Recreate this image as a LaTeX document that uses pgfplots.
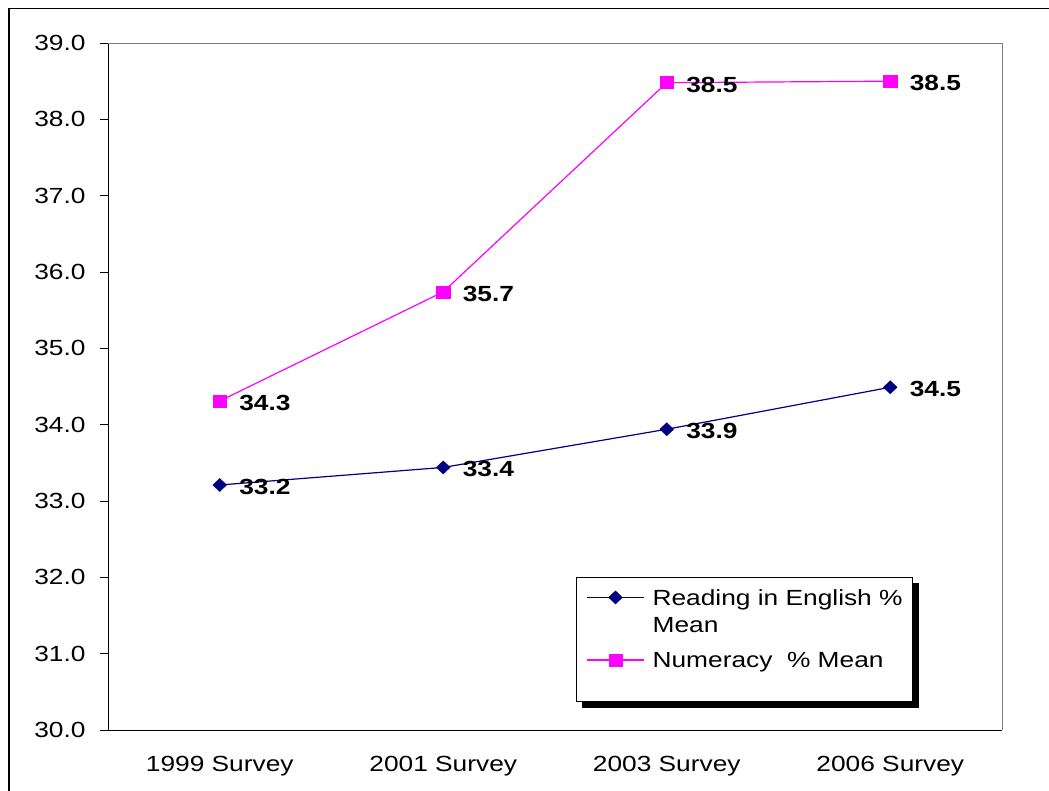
\documentclass[border=0pt]{standalone}
\usepackage{pgfplots}
\pgfplotsset{compat=1.18}
\usepackage{fontspec}
\setmainfont{Liberation Sans}[FakeStretch=1.2]
\usetikzlibrary{backgrounds}
\definecolor{readnavy}{RGB}{0,0,128}
\definecolor{numpink}{RGB}{255,0,255}
\definecolor{framegray}{RGB}{128,128,128}

\begin{document}
\fontsize{22}{27}\selectfont
\begin{tikzpicture}[x=1bp,y=1bp]
\path[use as bounding box] (0,0) rectangle (1049,-791);
\draw[line width=1.2bp] (9,-791) -- (9,-8.5) -- (1049,-8.5);
\begin{axis}[
    at={(108bp,-730bp)}, anchor=south west,
    scale only axis, width=894bp, height=687bp,
    xmin=-0.5, xmax=3.5, ymin=30, ymax=39,
    xtick={0,1,2,3},
    xticklabels={1999 Survey, 2001 Survey, 2003 Survey, 2006 Survey},
    ytick={30,31,...,39},
    yticklabel={\pgfmathprintnumber[fixed,fixed zerofill,precision=1]{\tick}},
    /pgf/number format/assume math mode=true,
    axis lines=left,
    axis line style={-, black, line width=1bp},
    tick align=outside,
    major tick length=8bp,
    ytick style={black, line width=1bp},
    xtick style={draw=none},
    tick label style={font=\fontsize{22}{26}\selectfont},
    xticklabel style={yshift=-11bp},
    yticklabel style={xshift=-7bp},
    clip=false,
    nodes near coords,
    point meta=explicit symbolic,
    nodes near coords style={font=\fontsize{22}{26}\selectfont\bfseries, anchor=west, xshift=12bp, yshift=-2bp, text=black},
    legend image code/.code={\draw[mark repeat=2, mark phase=2, #1] plot coordinates {(0bp,8bp) (28.5bp,8bp) (57bp,8bp)};},
    legend style={name=leg, at={(rel axis cs:0.5235,0.2227)}, anchor=north west,
        draw=black, line width=0.8bp, fill=white,
        inner xsep=10bp, inner ysep=12bp, column sep=8bp, row sep=0bp,
        cells={anchor=base west},
        nodes={inner sep=0pt, font=\fontsize{22}{27}\selectfont}},
]
% reading in English
\addplot[readnavy, line width=1.2bp, mark=diamond*, mark size=6.5bp,
    mark options={fill=readnavy, draw=readnavy, line width=0.5bp, xscale=1.4}]
    table[x=x, y=y, meta=lab] {
x y lab
0 33.21 33.2
1 33.44 33.4
2 33.94 33.9
3 34.49 34.5
};
\addlegendentry{\rule{0pt}{16bp}Reading in English \%}
\addlegendimage{empty legend}
\addlegendentry{\rule{0pt}{24bp}Mean}
% numeracy
\addplot[numpink, line width=1.2bp, mark=square*, mark size=6bp,
    mark options={fill=numpink, draw=numpink, line width=0.5bp, xscale=1.1}]
    table[x=x, y=y, meta=lab] {
x y lab
0 34.31 34.3
1 35.74 35.7
2 38.48 38.5
3 38.50 38.5
};
\addlegendentry{\rule{0pt}{32bp}Numeracy\ \ \% Mean}
\addlegendimage{empty legend}
\addlegendentry{\rule{0pt}{15bp}}
\draw[framegray, line width=1bp] (rel axis cs:0,1) -- (rel axis cs:1,1) -- (rel axis cs:1,0);
\end{axis}
\begin{scope}[on background layer]
\fill[black] ([shift={(6bp,-6bp)}]leg.south west) rectangle ([shift={(6bp,-6bp)}]leg.north east);
\end{scope}
\end{tikzpicture}
\end{document}
